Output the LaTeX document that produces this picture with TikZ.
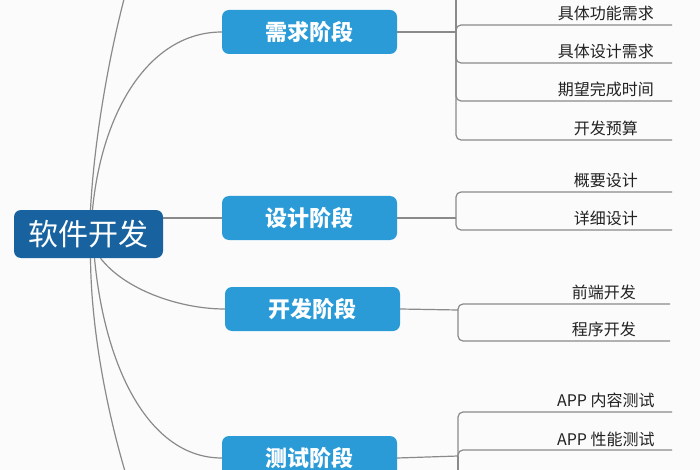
\documentclass[tikz,border=0pt]{standalone}
\usepackage{fontspec}
\setmainfont{Noto Sans CJK SC}
\usepackage{xcolor}
\usetikzlibrary{positioning}
\definecolor{rootblue}{HTML}{17629F}
\definecolor{stageblue}{HTML}{2B9BD8}
\definecolor{linegray}{HTML}{8A8A8A}
\definecolor{leaftext}{HTML}{222222}
\definecolor{paper}{HTML}{FBFBFB}

\begin{document}
\begin{tikzpicture}[x=1pt, y=-1pt,
	root/.style={rectangle, rounded corners=7pt, fill=rootblue, text=white, minimum width=149pt, minimum height=48pt, inner sep=0pt, font=\fontsize{30}{32}\selectfont},
	stage/.style={rectangle, rounded corners=7pt, fill=stageblue, text=white, minimum width=175pt, minimum height=44pt, inner sep=0pt, font=\bfseries\fontsize{22}{24}\selectfont},
	leaf/.style={minimum width=132pt, inner xsep=0pt, inner ysep=3.5pt, anchor=south east, text=leaftext, font=\fontsize{16}{18}\selectfont},
	link/.style={draw=linegray, line width=1.2pt},
	bracket/.style={link, rounded corners=5pt}]
	\useasboundingbox (0,0) rectangle (700,470);
	\fill[paper] (0,0) rectangle (700,470);
	\clip (0,0) rectangle (700,470);

	% main topic and stages
	\node[root] (soft) at (88.5,234) {软件开发};
	\node[stage] (req) at (309.5,32) {需求阶段};
	\node[stage] (des) at (309.5,218) {设计阶段};
	\node[stage] (dev) at (312.5,309) {开发阶段};
	\node[stage] (test) at (309.5,458) {测试阶段};
	\coordinate (up) at (222,-170);
	\coordinate (down) at (222,640);

	\draw[link] ([xshift=2pt]soft.north) .. controls (97,80) and (150,-170) .. (up);
	\draw[link] ([xshift=4pt]soft.north) .. controls (102,110) and (150,32) .. (req.west);
	\draw[link] (soft.east |- des.west) -- (des.west);
	\draw[link] ([xshift=12pt]soft.south) .. controls (125,290) and (180,309) .. (dev.west);
	\draw[link] ([xshift=6pt]soft.south) .. controls (105,370) and (150,458) .. (test.west);
	\draw[link] ([xshift=2pt]soft.south) .. controls (92,420) and (170,640) .. (down);

	% junctions
	\coordinate (req-j) at (456,32);
	\coordinate (des-j) at (456,218);
	\coordinate (dev-j) at (458,310);
	\coordinate (test-j) at (458,456);
	\coordinate (req-top) at (456,-20);
	\coordinate (test-bot) at (458,490);
	\draw[link] (req.east) -- (req-j);
	\draw[link] (des.east) -- (des-j);
	\draw[link] (dev.east) -- (dev-j);
	\draw[link] (test.east) -- (test-j);

	% leaves
	\node[leaf] (req1) at (672,25) {具体功能需求};
	\node[leaf] (req2) at (672,63) {具体设计需求};
	\node[leaf] (req3) at (672,101) {期望完成时间};
	\node[leaf] (req4) at (672,140) {开发预算};
	\node[leaf] (des1) at (672,192) {概要设计};
	\node[leaf] (des2) at (672,230) {详细设计};
	\node[leaf] (dev1) at (670,304) {前端开发};
	\node[leaf] (dev2) at (670,341) {程序开发};
	\node[leaf] (test1) at (672,412) {APP 内容测试};
	\node[leaf] (test2) at (672,450) {APP 性能测试};

	\draw[link] (req-j) -- (req-top);
	\foreach \n in {req1,req2,req3,req4}
		\draw[bracket] (req-j) |- (\n.south east);
	\foreach \n in {des1,des2}
		\draw[bracket] (des-j) |- (\n.south east);
	\foreach \n in {dev1,dev2}
		\draw[bracket] (dev-j) |- (\n.south east);
	\foreach \n in {test1,test2}
		\draw[bracket] (test-j) |- (\n.south east);
	\draw[link] (test-j) -- (test-bot);

\end{tikzpicture}
\end{document}
